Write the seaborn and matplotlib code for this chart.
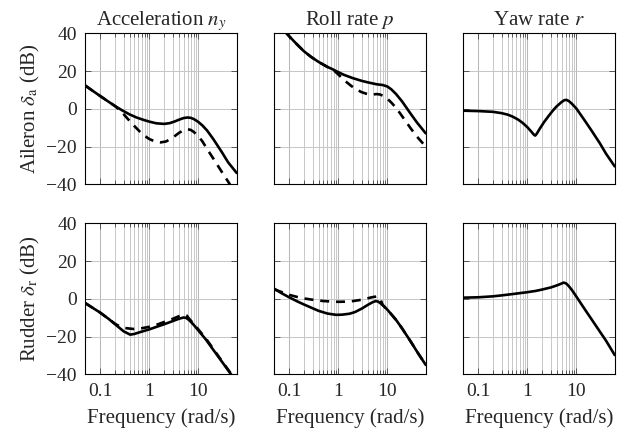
import matplotlib
matplotlib.use("Agg")
import matplotlib.pyplot as plt
import seaborn as sns
from matplotlib.ticker import FixedLocator, FixedFormatter, NullFormatter

# ---- frequency responses (frequency in rad/s, magnitude in dB) ----
# Aileron -> lateral acceleration
ail_ny_f = [0.05, 0.07, 0.1, 0.14, 0.2, 0.28, 0.4, 0.55, 0.75, 1, 1.4, 2, 2.6, 3.3, 4, 5, 6, 7, 8, 9, 10, 12, 15, 20, 30, 40, 60]
ail_ny_solid = [12.3, 9.6, 6.8, 4.2, 1.5, -0.8, -3, -4.6, -5.8, -6.8, -7.7, -8, -7.6, -6.7, -5.8, -4.9, -4.6, -4.8, -5.4, -6.2, -7, -8.8, -11.5, -16, -23, -28.3, -34]
ail_ny_df = [0.05, 0.07, 0.1, 0.14, 0.2, 0.25, 0.3, 0.4, 0.5, 0.65, 0.8, 1, 1.3, 1.7, 2.2, 3, 4, 5, 6, 7, 8, 10, 12, 15, 20, 30, 40, 50]
ail_ny_dash = [12.3, 9.6, 6.8, 4.2, 1.5, -0.7, -2.8, -6.5, -9.2, -12.2, -14.3, -16, -17.3, -17.8, -17.3, -15.3, -12.8, -11.3, -10.8, -11.2, -12.2, -14.6, -17.2, -21.3, -26.3, -33.5, -38.5, -42.5]

# Aileron -> roll rate
ail_p_f = [0.05, 0.07, 0.1, 0.14, 0.2, 0.28, 0.4, 0.6, 0.76, 0.9, 1.3, 2, 3, 4, 6, 8, 10, 12, 15, 20, 30, 40, 60]
ail_p_solid = [47, 43, 38.5, 34.5, 30.5, 27.5, 24.8, 22.2, 21, 20, 18, 16.2, 14.8, 14, 13, 12.6, 11.8, 10.3, 7.8, 3.8, -2.8, -7.3, -13]
ail_p_df = [0.05, 0.07, 0.1, 0.14, 0.2, 0.28, 0.4, 0.6, 0.76, 0.9, 1.1, 1.4, 1.8, 2.3, 3, 4, 5, 6, 7, 8, 10, 12, 15, 20, 30, 40, 60]
ail_p_dash = [47, 43, 38.5, 34.5, 30.5, 27.5, 24.8, 22.2, 21, 19.3, 17.2, 14.6, 12.3, 10.3, 8.8, 7.7, 7.6, 7.8, 7.6, 7, 5.3, 3.3, 0.5, -4, -10.5, -14.8, -20]

# Aileron -> yaw rate
ail_r_f = [0.05, 0.1, 0.2, 0.3, 0.4, 0.5, 0.65, 0.8, 1, 1.2, 1.35, 1.45, 1.55, 1.8, 2.2, 2.7, 3.3, 4, 5, 5.7, 6.3, 7, 8, 10, 15, 20, 30, 40, 60]
ail_r_solid = [-1, -1.2, -1.6, -2.3, -3.1, -4.1, -5.7, -7.4, -9.7, -12, -13.6, -14.2, -13.3, -10.5, -7, -3.9, -1, 1.4, 3.6, 4.6, 4.7, 4.1, 2.8, 0.1, -6.5, -11.3, -18.3, -23.8, -30.5]

# Rudder -> lateral acceleration
rud_ny_f = [0.05, 0.1, 0.15, 0.2, 0.3, 0.41, 0.5, 0.7, 1, 1.5, 2, 3, 4, 5, 5.6, 6.5, 8, 10, 14.3, 20, 30, 40, 50]
rud_ny_solid = [-2.3, -7.3, -10.7, -13.4, -17.2, -19, -18.6, -17.4, -16.2, -14.6, -13.5, -11.8, -10.6, -9.9, -10.1, -11.3, -13.8, -16.8, -21.7, -27, -33.3, -37.8, -41.3]
rud_ny_df = [0.05, 0.1, 0.15, 0.2, 0.25, 0.3, 0.48, 0.7, 1.07, 1.5, 2.16, 3, 4.4, 5.2, 5.8, 6.5, 8, 10, 14.3, 20, 30, 40, 50]
rud_ny_dash = [-2.3, -7.3, -10.7, -13.2, -14.6, -15.4, -16, -15.6, -14.7, -13.5, -12, -10.6, -8.8, -8.5, -8.9, -10.6, -13.3, -16.3, -21.2, -26.5, -33, -37.5, -41]

# Rudder -> roll rate
rud_p_f = [0.05, 0.07, 0.1, 0.15, 0.2, 0.3, 0.4, 0.6, 0.9, 1.2, 1.7, 2.2, 3, 4, 5, 5.8, 6.5, 7.3, 8, 10, 15, 20, 30, 40, 60]
rud_p_solid = [5.3, 3, 0.8, -1.5, -3, -5, -6.4, -7.8, -8.5, -8.4, -7.9, -7, -5.2, -3.2, -1.8, -1.2, -1.5, -2.5, -3.3, -5.8, -11.2, -15.8, -22.8, -28, -35]
rud_p_df = [0.05, 0.07, 0.1, 0.15, 0.2, 0.3, 0.5, 1, 1.5, 2, 3, 4, 5, 6, 6.6, 7.3, 8, 10, 15, 20, 30, 40, 60]
rud_p_dash = [5, 3.6, 2.1, 0.9, 0.2, -0.5, -1.2, -1.6, -1.5, -1.2, -0.5, 0.3, 0.9, 1.2, 1, -0.6, -3.3, -5.8, -11.2, -15.8, -22.8, -28, -35]

# Rudder -> yaw rate
rud_r_f = [0.05, 0.1, 0.2, 0.3, 0.5, 1, 1.5, 2, 3, 4, 5, 5.5, 6.2, 7, 8, 9, 10, 15, 20, 30, 40, 60]
rud_r_solid = [0.6, 0.8, 1.3, 1.8, 2.5, 3.5, 4.2, 4.9, 6, 7.1, 8.1, 8.6, 8.1, 6.7, 4.8, 2.9, 1.1, -5.8, -10.6, -17.4, -22.2, -29.8]

col_titles = [r"Acceleration $n_y$", r"Roll rate $p$", r"Yaw rate $r$"]
row_labels = [r"Aileron $\delta_\mathrm{a}$ (dB)", r"Rudder $\delta_\mathrm{r}$ (dB)"]
x_major = [0.1, 1, 10]
x_major_labels = ["0.1", "1", "10"]
x_minor = [0.2, 0.3, 0.4, 0.5, 0.6, 0.7, 0.8, 0.9, 2, 3, 4, 5, 6, 7, 8, 9]
y_ticks = [-40, -20, 0, 20, 40]

panels = [
    [(ail_ny_f, ail_ny_solid, ail_ny_df, ail_ny_dash),
     (ail_p_f, ail_p_solid, ail_p_df, ail_p_dash),
     (ail_r_f, ail_r_solid, None, None)],
    [(rud_ny_f, rud_ny_solid, rud_ny_df, rud_ny_dash),
     (rud_p_f, rud_p_solid, rud_p_df, rud_p_dash),
     (rud_r_f, rud_r_solid, None, None)],
]

sns.set_theme(style="white")
plt.rcParams["font.family"] = ["Liberation Serif", "DejaVu Serif"]
plt.rcParams["mathtext.fontset"] = "stix"

W, H = 627, 437
fig = plt.figure(figsize=(W / 100, H / 100), dpi=100)

lefts = [85.3, 274.3, 463.3]
tops = [33.3, 223.3]
aw, ah = 151.4, 151.0

FS = 15
TS = 14
for r in range(2):
    for c in range(3):
        ax = fig.add_axes([lefts[c] / W, 1 - (tops[r] + ah) / H, aw / W, ah / H])
        f_s, m_s, f_d, m_d = panels[r][c]
        if f_d is not None:
            sns.lineplot(x=f_d, y=m_d, ax=ax, color="black", linewidth=1.9,
                         estimator=None, sort=False, zorder=3)
            ax.lines[-1].set_dashes([3.4, 2.6])
        sns.lineplot(x=f_s, y=m_s, ax=ax, color="black", linewidth=1.9,
                     estimator=None, sort=False, zorder=4)

        ax.set_xscale("log")
        ax.set_xlim(0.05, 60)
        ax.set_ylim(-40, 40)
        ax.xaxis.set_major_locator(FixedLocator(x_major))
        ax.xaxis.set_minor_locator(FixedLocator(x_minor))
        ax.xaxis.set_minor_formatter(NullFormatter())
        ax.yaxis.set_major_locator(FixedLocator(y_ticks))
        ax.grid(True, which="major", axis="x", color="#b8b8b8", linewidth=0.75)
        ax.grid(True, which="minor", axis="x", color="#c8c8c8", linewidth=0.7)
        ax.grid(True, which="major", axis="y", color="#c6c6c6", linewidth=0.7)
        ax.set_axisbelow(True)
        ax.tick_params(which="both", direction="in", top=True, right=True,
                       bottom=True, left=True, color="#555555", width=0.7,
                       labelsize=TS, pad=6)
        ax.tick_params(which="major", length=4.5)
        ax.tick_params(which="minor", length=3)
        for sp in ax.spines.values():
            sp.set_color("black")
            sp.set_linewidth(0.8)

        if r == 1:
            ax.xaxis.set_major_formatter(FixedFormatter(x_major_labels))
            ax.set_xlabel("Frequency (rad/s)", fontsize=FS, labelpad=6)
        else:
            ax.xaxis.set_major_formatter(NullFormatter())
            ax.set_xlabel("")
            ax.set_title(col_titles[c], fontsize=FS, pad=6)
        if c == 0:
            ax.set_ylabel(row_labels[r], fontsize=FS, labelpad=3)
        else:
            ax.set_yticklabels([])
            ax.set_ylabel("")

fig.savefig("out.png", dpi=100)
